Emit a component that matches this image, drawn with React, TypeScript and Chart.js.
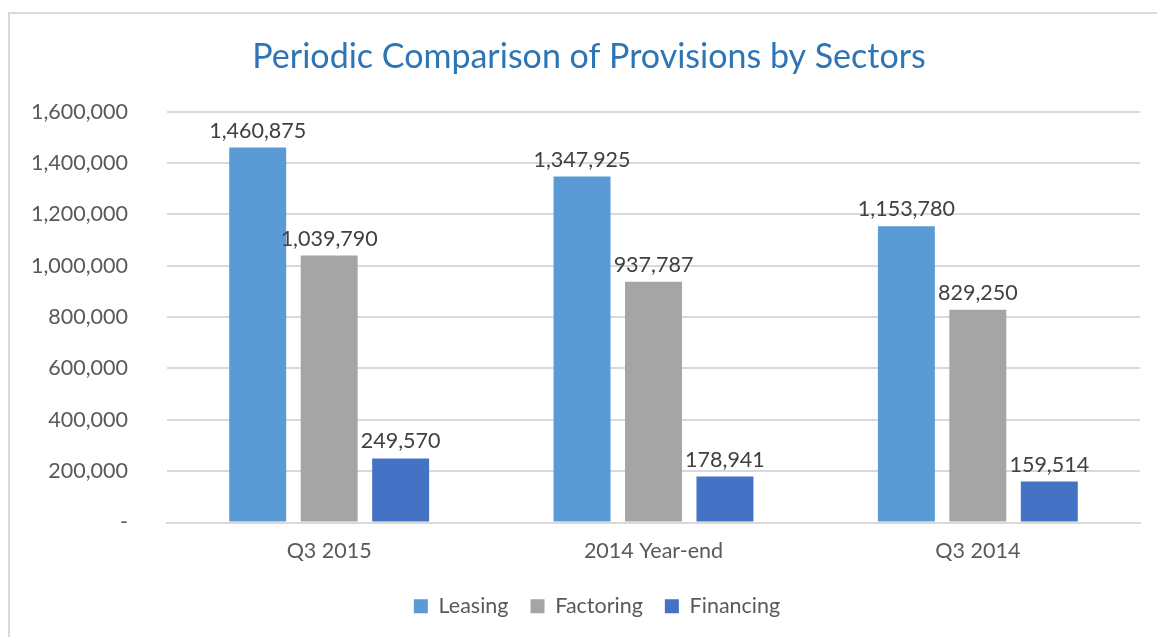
import React, { useEffect, useRef } from "react";
import { Chart, registerables } from "chart.js";

Chart.register(...registerables);

const categories = ["Q3 2015", "2014 Year-end", "Q3 2014"];
const leasing = [1460875, 1347925, 1153780];
const factoring = [1039790, 937787, 829250];
const financing = [249570, 178941, 159514];
const tickValues = [0, 200000, 400000, 600000, 800000, 1000000, 1200000, 1400000, 1600000];

const FONT = "Lato";
const TXT = 21.5;
const fmt = (v: number) => (v === 0 ? "-" : v.toLocaleString("en-US"));

const framePlugin = {
  id: "frame",
  afterLayout(chart: any) {
    if (chart.legend) {
      chart.legend.left += 8;
      chart.legend.right += 8;
    }
  },
  beforeDraw(chart: any) {
    const ctx = chart.ctx;
    ctx.save();
    ctx.fillStyle = "#ffffff";
    ctx.fillRect(0, 0, chart.width, chart.height);
    ctx.fillStyle = "#d9d9d9";
    ctx.fillRect(8, 12, 2, chart.height);
    ctx.fillRect(8, 12, chart.width, 2);
    ctx.restore();
  },
};

const labelPlugin = {
  id: "valueLabels",
  afterDatasetsDraw(chart: any) {
    const ctx = chart.ctx;
    ctx.save();
    ctx.font = `${TXT}px ${FONT}`;
    ctx.fillStyle = "#404040";
    ctx.textAlign = "center";
    ctx.textBaseline = "alphabetic";
    chart.data.datasets.forEach((ds: any, i: number) => {
      const meta = chart.getDatasetMeta(i);
      meta.data.forEach((el: any, j: number) => {
        ctx.fillText(fmt(ds.data[j]), el.x, el.y - 10);
      });
    });
    ctx.restore();
  },
};

export default function App() {
  const ref = useRef<HTMLCanvasElement | null>(null);
  useEffect(() => {
    if (!ref.current) return;
    const chart = new Chart(ref.current, {
      type: "bar",
      data: {
        labels: categories,
        datasets: [
          { label: "Leasing", data: leasing, backgroundColor: "#5B9BD5" },
          { label: "Factoring", data: factoring, backgroundColor: "#A5A5A5" },
          { label: "Financing", data: financing, backgroundColor: "#4472C4" },
        ],
      },
      options: {
        responsive: false,
        animation: false,
        layout: { padding: { left: 38, right: 17, top: 0, bottom: 10 } },
        datasets: { bar: { categoryPercentage: 0.661, barPercentage: 0.797 } },
        plugins: {
          title: {
            display: true,
            text: "Periodic Comparison of Provisions by Sectors",
            color: "#2E75B6",
            font: { family: FONT, size: 34, weight: "normal" },
            padding: { top: 37, bottom: 34 },
          },
          legend: {
            position: "bottom",
            labels: {
              color: "#595959",
              font: { family: FONT, size: TXT },
              boxWidth: 14,
              boxHeight: 14,
              padding: 22,
            },
          },
          tooltip: { enabled: false },
        },
        scales: {
          x: {
            afterFit: (s: any) => { s.height = 51; },
            grid: { display: false, drawTicks: false },
            border: { display: true, color: "#d9d9d9", width: 2 },
            ticks: { color: "#595959", font: { family: FONT, size: TXT }, padding: 16 },
          },
          y: {
            min: 0,
            max: 1600000,
            afterFit: (s: any) => {
              s.width = 129;
              s._computeLabelArea = () => undefined;
            },
            afterBuildTicks: (s: any) => { s.ticks = tickValues.map((v) => ({ value: v })); },
            grid: { color: "#d9d9d9", lineWidth: 2, drawTicks: false },
            border: { display: false },
            ticks: {
              color: "#595959",
              font: { family: FONT, size: TXT },
              padding: 39,
              callback: (v: any) => fmt(Number(v)),
            },
          },
        },
      },
      plugins: [framePlugin, labelPlugin],
    });
    return () => chart.destroy();
  }, []);
  return (
    <div style={{ position: "fixed", left: 0, top: 0, width: 1157, height: 637, overflow: "hidden", background: "#fff" }}>
      <canvas ref={ref} width={1157} height={637} style={{ display: "block" }} />
    </div>
  );
}
